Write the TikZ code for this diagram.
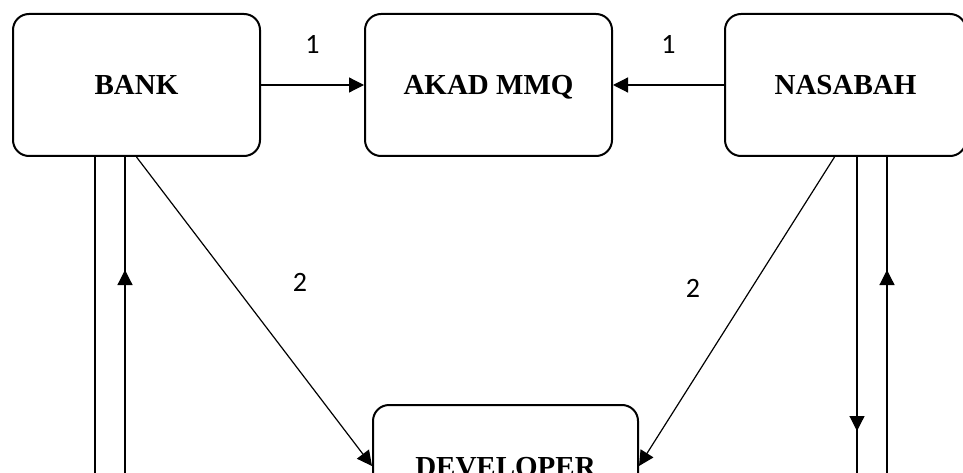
\documentclass[tikz,border=0pt]{standalone}
\usepackage{fontspec}
\setmainfont{Liberation Serif}
\newfontfamily\numfont{Carlito}
\usepackage{tikz}
\usetikzlibrary{arrows.meta,positioning,calc,decorations.markings}

\begin{document}
\begin{tikzpicture}[
  x=1pt, y=1pt,
  party/.style={draw, line width=2pt, rounded corners=16pt,
                minimum width=247pt, minimum height=142pt, align=center,
                text height=20pt, text depth=0pt,
                font=\fontsize{29}{34}\selectfont\bfseries},
  num/.style={font=\fontsize{28}{32}\selectfont\numfont},
  arrow/.style={-{Triangle[length=15pt,width=15pt]}, line width=1.2pt},
  link/.style={line width=1.2pt},
  midtip/.style={link, postaction={decorate},
                 decoration={markings,
                   mark=at position #1 with {\arrow{Triangle[length=15pt,width=15pt]}}}},
]
\useasboundingbox (0,0) rectangle (963,472);
\clip (0,0) rectangle (963,472);

%% Parties
\node[party] (bank) at (136.5,387) {BANK};
\node[party] (akad) at (488.5,387) {AKAD MMQ};
\node[party, minimum width=241pt] (nasabah) at (845.5,387) {NASABAH};
\node[party, minimum width=265pt, minimum height=122pt] (dev) at (505.5,6) {DEVELOPER};

%% Akad arrows
\draw[arrow] (bank.east) -- node[num, midway, above=28pt] (one a) {1} (akad.west);
\draw[arrow] (nasabah.west) -- node[num, midway, above=28pt] (one b) {1} (akad.east);

%% Arrows to developer
\draw[arrow] (bank.south) -- (dev.west);
\draw[arrow] ([xshift=-11pt]nasabah.south) -- (dev.east);
\node[num] (two a) at (300,190) {2};
\node[num] (two b) at (693,184) {2};

%% Lines leaving the picture at the bottom
\coordinate (bdown a) at (95,-50);
\coordinate (bdown b) at (125,-50);
\coordinate (ndown a) at (857,-50);
\coordinate (ndown b) at (887,-50);

\draw[link] (bdown a |- bank.south) -- (bdown a);
\draw[midtip=252pt] (bdown b) -- (bdown b |- bank.south);
\draw[midtip=274pt] (ndown a |- nasabah.south) -- (ndown a);
\draw[midtip=252pt] (ndown b) -- (ndown b |- nasabah.south);

\end{tikzpicture}
\end{document}
